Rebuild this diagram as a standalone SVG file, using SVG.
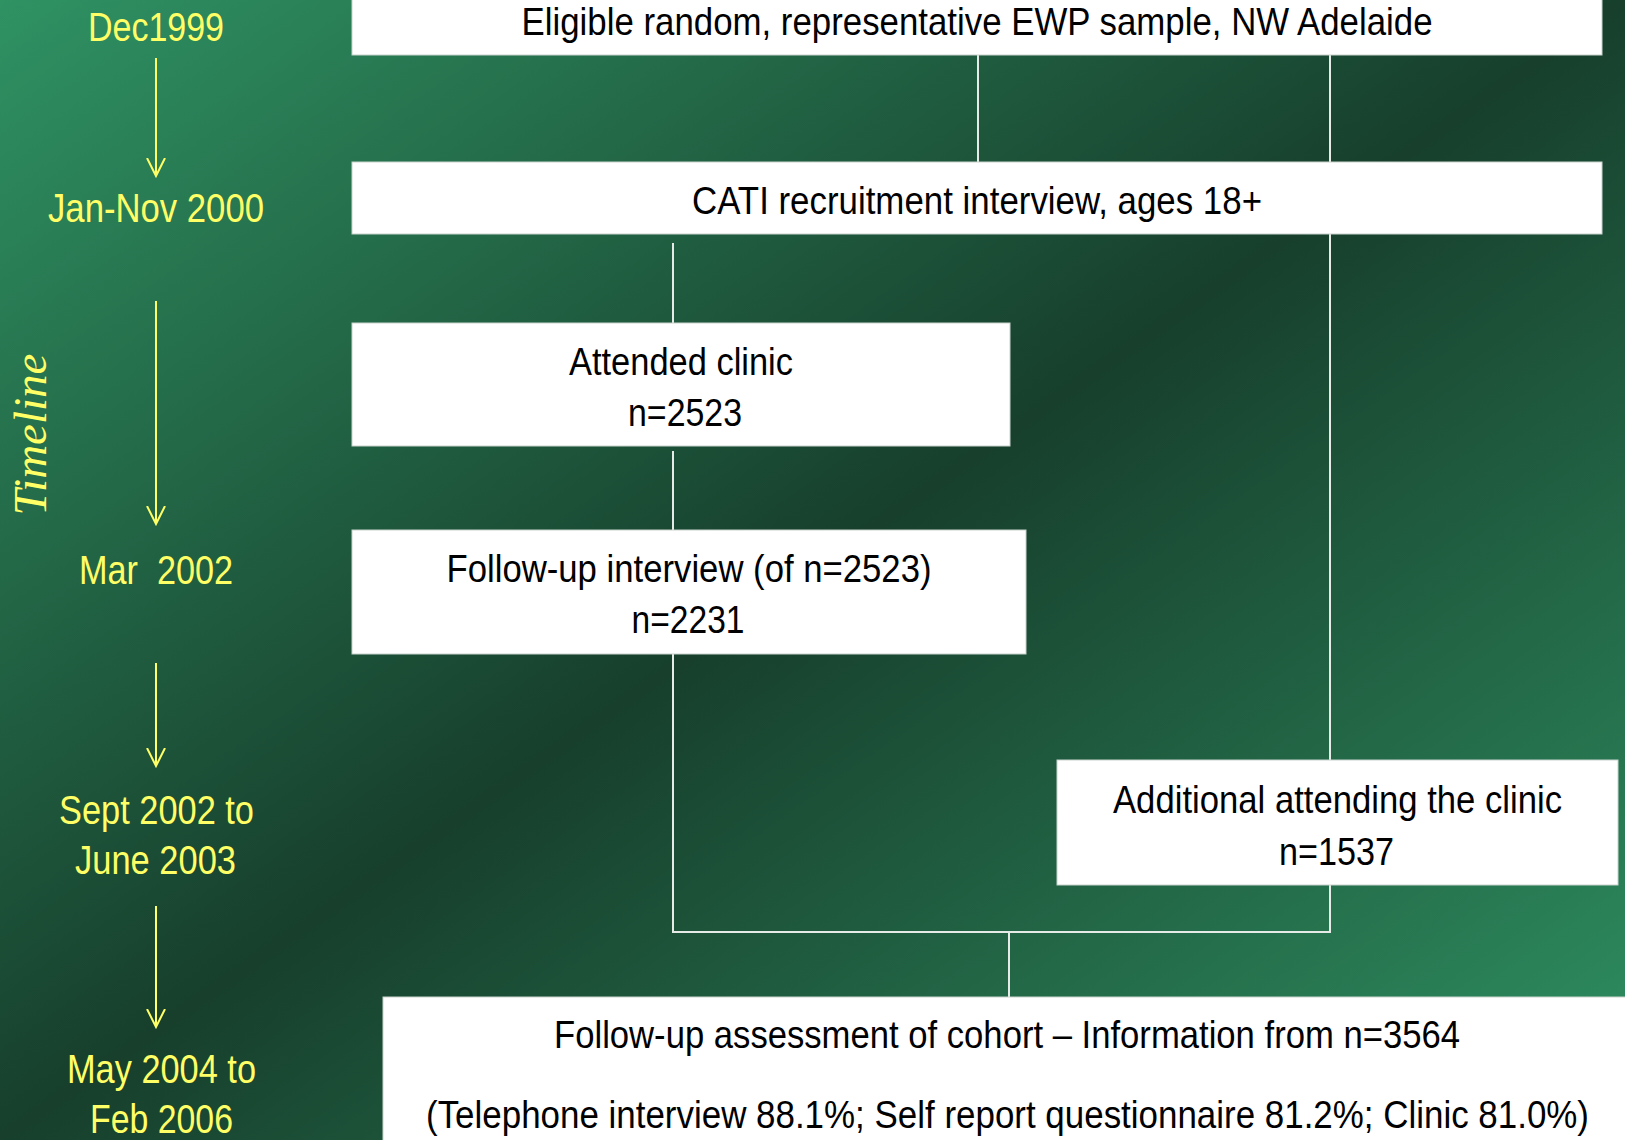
<svg xmlns="http://www.w3.org/2000/svg" width="1625" height="1140" viewBox="0 0 1625 1140">
<defs>
<linearGradient id="bg" x1="0" y1="0" x2="1" y2="1">
<stop offset="0" stop-color="#2f9263"/>
<stop offset="0.5" stop-color="#173f2c"/>
<stop offset="1" stop-color="#2f9263"/>
</linearGradient>
<marker id="ah" viewBox="0 0 20 20" refX="18" refY="10" markerWidth="20" markerHeight="20" markerUnits="userSpaceOnUse" orient="auto">
<path d="M0,1 L18,10 L0,19" fill="none" stroke="#ffff66" stroke-width="2"/>
</marker>
</defs>
<style>
.box{fill:#ffffff;stroke:#c9d3ce;stroke-width:1}
.bt{font-family:"Liberation Sans",Arial,sans-serif;font-size:39px;fill:#000;text-anchor:middle}
.tl{font-family:"Liberation Sans",Arial,sans-serif;font-size:40px;fill:#ffff66;text-anchor:middle}
.conn{stroke:#e6ebe8;stroke-width:2;fill:none}
.arr{stroke:#ffff66;stroke-width:2;fill:none}
</style>
<rect x="0" y="0" width="1625" height="1140" fill="url(#bg)"/>

<g id="timeline">
<text class="tl" x="156" y="41" textLength="136" lengthAdjust="spacingAndGlyphs">Dec1999</text>
<line class="arr" x1="156" y1="58" x2="156" y2="176" marker-end="url(#ah)"/>
<text class="tl" x="156" y="222" textLength="216" lengthAdjust="spacingAndGlyphs">Jan-Nov 2000</text>
<line class="arr" x1="156" y1="301" x2="156" y2="524" marker-end="url(#ah)"/>
<text class="tl" x="156" y="584" textLength="154" lengthAdjust="spacingAndGlyphs" xml:space="preserve">Mar  2002</text>
<line class="arr" x1="156" y1="663" x2="156" y2="766" marker-end="url(#ah)"/>
<text class="tl" x="156.5" y="824" textLength="195" lengthAdjust="spacingAndGlyphs">Sept 2002 to</text>
<text class="tl" x="155.5" y="874" textLength="161" lengthAdjust="spacingAndGlyphs">June 2003</text>
<line class="arr" x1="156" y1="906" x2="156" y2="1027" marker-end="url(#ah)"/>
<text class="tl" x="161.5" y="1083" textLength="189" lengthAdjust="spacingAndGlyphs">May 2004 to</text>
<text class="tl" x="161.5" y="1133" textLength="143" lengthAdjust="spacingAndGlyphs">Feb 2006</text>
<text transform="translate(46,434.5) rotate(-90)" x="0" y="0" text-anchor="middle" font-family="'Liberation Serif','Times New Roman',serif" font-style="italic" font-size="47" fill="#ffff66">Timeline</text>
</g>

<g id="connectors">
<line class="conn" x1="978" y1="55" x2="978" y2="162"/>
<line class="conn" x1="1330" y1="55" x2="1330" y2="162"/>
<line class="conn" x1="673" y1="243" x2="673" y2="323"/>
<line class="conn" x1="1330" y1="234" x2="1330" y2="760"/>
<line class="conn" x1="673" y1="451" x2="673" y2="530"/>
<polyline class="conn" points="673,654 673,932 1330,932 1330,885"/>
<line class="conn" x1="1009" y1="932" x2="1009" y2="997"/>
</g>

<g id="node-sample">
<rect class="box" x="352" y="-2" width="1250" height="57"/>
<text class="bt" x="977" y="35" textLength="911" lengthAdjust="spacingAndGlyphs">Eligible random, representative EWP sample, NW Adelaide</text>
</g>
<g id="node-cati">
<rect class="box" x="352" y="162" width="1250" height="72"/>
<text class="bt" x="977" y="214" textLength="570" lengthAdjust="spacingAndGlyphs">CATI recruitment interview, ages 18+</text>
</g>
<g id="node-clinic">
<rect class="box" x="352" y="323" width="658" height="123"/>
<text class="bt" x="681" y="375" textLength="224" lengthAdjust="spacingAndGlyphs">Attended clinic</text>
<text class="bt" x="685" y="426" textLength="114" lengthAdjust="spacingAndGlyphs">n=2523</text>
</g>
<g id="node-followup">
<rect class="box" x="352" y="530" width="674" height="124"/>
<text class="bt" x="689" y="582" textLength="485" lengthAdjust="spacingAndGlyphs">Follow-up interview (of n=2523)</text>
<text class="bt" x="688" y="633" textLength="113" lengthAdjust="spacingAndGlyphs">n=2231</text>
</g>
<g id="node-additional">
<rect class="box" x="1057" y="760" width="561" height="125"/>
<text class="bt" x="1337.5" y="813" textLength="449" lengthAdjust="spacingAndGlyphs">Additional attending the clinic</text>
<text class="bt" x="1336.5" y="865" textLength="115" lengthAdjust="spacingAndGlyphs">n=1537</text>
</g>
<g id="node-assessment">
<rect class="box" x="383" y="997" width="1250" height="150"/>
<text class="bt" x="1007" y="1048" textLength="906" lengthAdjust="spacingAndGlyphs">Follow-up assessment of cohort – Information from n=3564</text>
<text class="bt" x="1007.5" y="1128" textLength="1163" lengthAdjust="spacingAndGlyphs">(Telephone interview 88.1%; Self report questionnaire 81.2%; Clinic 81.0%)</text>
</g>
</svg>
